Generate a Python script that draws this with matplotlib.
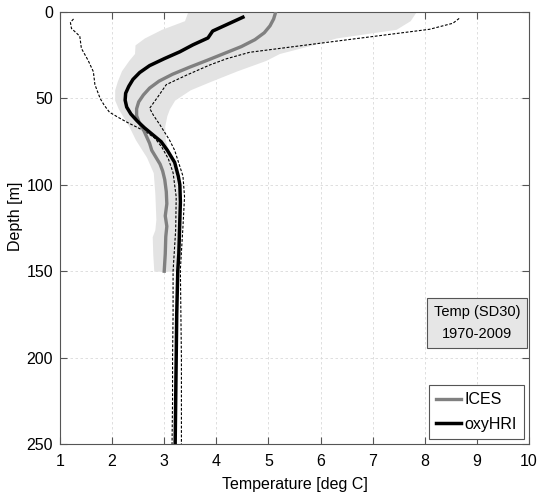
import numpy as np
import matplotlib
matplotlib.use("Agg")
import matplotlib.pyplot as plt

plt.rcParams["font.family"] = ["Liberation Sans", "DejaVu Sans"]
plt.rcParams["font.size"] = 11

# ICES mean profile
ices_depth = [0, 4, 8, 12, 16, 20, 24, 28, 32, 36, 40, 44, 48, 52, 56, 60,
              64, 68, 72, 76, 80, 84, 88, 92, 97, 104, 111, 118, 124, 130, 140, 150]
ices_temp = [5.14, 5.10, 5.03, 4.92, 4.74, 4.48, 4.15, 3.82, 3.48, 3.16, 2.90,
             2.72, 2.60, 2.51, 2.47, 2.47, 2.52, 2.60, 2.66, 2.72, 2.76, 2.84,
             2.92, 2.97, 3.01, 3.04, 3.05, 3.02, 3.05, 3.03, 3.02, 3.00]

# ICES spread (shaded)
band_depth = [0, 5, 10, 15, 19, 24, 28, 34, 40, 45, 51, 56, 60, 66, 74, 84,
              93, 105, 120, 126, 130, 140, 150]
band_lo = [3.45, 3.39, 2.95, 2.62, 2.44, 2.43, 2.32, 2.18, 2.10, 2.05, 2.05,
           2.12, 2.20, 2.32, 2.45, 2.66, 2.79, 2.82, 2.84, 2.82, 2.77, 2.78, 2.80]
band_hi = [7.83, 7.72, 7.45, 6.30, 5.85, 5.21, 4.95, 4.40, 3.90, 3.50, 3.20,
           3.10, 3.05, 3.01, 3.02, 3.12, 3.22, 3.26, 3.26, 3.26, 3.25, 3.25, 3.25]

# oxyHRI mean profile
hri_depth = [3, 7, 11, 15, 19, 23, 27, 31, 35, 39, 43, 47, 51, 55, 59, 63, 67,
             71, 75, 80, 87, 95, 100, 110, 120, 130, 140, 150, 175, 200, 225, 250]
hri_temp = [4.51, 4.22, 3.93, 3.84, 3.55, 3.30, 3.00, 2.72, 2.53, 2.40, 2.32,
            2.26, 2.25, 2.28, 2.36, 2.48, 2.62, 2.78, 2.94, 3.06, 3.20, 3.27,
            3.30, 3.31, 3.30, 3.29, 3.28, 3.26, 3.24, 3.23, 3.22, 3.21]

# oxyHRI min / max envelope
hri_min_depth = [4, 6, 9.5, 14, 21, 28, 34.5, 42, 50, 54, 58, 61, 64, 67, 70,
                 73, 78, 85, 93, 107, 126, 150, 175, 200, 225, 250]
hri_min_temp = [1.26, 1.20, 1.22, 1.38, 1.41, 1.54, 1.64, 1.67, 1.77, 1.85,
                1.95, 2.12, 2.30, 2.50, 2.68, 2.82, 2.95, 3.08, 3.17, 3.23,
                3.22, 3.17, 3.17, 3.16, 3.16, 3.15]
hri_max_depth = [3.7, 6.5, 10, 16.6, 23.3, 27, 30.7, 36.5, 42, 49, 55.7, 59.6,
                 65.4, 74, 80, 95, 107, 124, 149, 175, 200, 225, 250]
hri_max_temp = [8.66, 8.54, 8.09, 6.37, 4.64, 4.20, 3.87, 3.43, 3.04, 2.88,
                2.72, 2.79, 2.92, 3.10, 3.20, 3.36, 3.39, 3.36, 3.31, 3.32,
                3.33, 3.33, 3.33]

fig = plt.figure(figsize=(5.41, 4.97), dpi=100)
ax = fig.add_axes([0.1109, 0.1066, 0.8669, 0.8692])

frame = "#555555"

ax.fill_betweenx(band_depth, band_lo, band_hi, color="#e3e3e3", lw=0, zorder=1)
ax.plot(hri_min_temp, hri_min_depth, color="black", lw=0.8, ls=(0, (2.5, 1.5)), zorder=2)
ax.plot(hri_max_temp, hri_max_depth, color="black", lw=0.8, ls=(0, (2.5, 1.5)), zorder=2)
ax.plot(ices_temp, ices_depth, color="#808080", lw=2.4, label="ICES", zorder=3)
ax.plot(hri_temp, hri_depth, color="black", lw=2.5, label="oxyHRI", zorder=4)

ax.set_xlim(1, 10)
ax.set_ylim(250, 0)
ax.set_xticks(np.arange(1, 11))
ax.set_yticks(np.arange(0, 251, 50))
ax.grid(True, ls=(0, (3, 3)), color="#d9d9d9", lw=0.6)
ax.set_axisbelow(True)
ax.tick_params(direction="in", top=True, right=True, length=5, color=frame,
               labelsize=11.5)
ax.tick_params(axis="x", pad=7)
ax.tick_params(axis="y", pad=5)
for s in ax.spines.values():
    s.set_color(frame)
    s.set_linewidth(0.8)

ax.set_xlabel("Temperature [deg C]", fontsize=11.5, labelpad=6)
ax.set_ylabel("Depth [m]", fontsize=11.5)
ax.yaxis.set_label_coords(-0.079, 0.528)

# period annotation box
ax.text(0.889, 0.280, "Temp (SD30)\n1970-2009", transform=ax.transAxes,
        ha="center", va="center", fontsize=10.5, linespacing=1.75,
        bbox=dict(boxstyle="square,pad=0.45", fc="#e6e6e6", ec=frame, lw=0.8),
        zorder=6)

leg = ax.legend(loc="lower right", fontsize=11.5, handlelength=1.55,
                borderaxespad=0.3, fancybox=False, framealpha=1,
                edgecolor=frame, borderpad=0.45, labelspacing=0.6,
                handletextpad=0.25)
leg.get_frame().set_linewidth(0.8)

fig.savefig("out.png", dpi=100)
